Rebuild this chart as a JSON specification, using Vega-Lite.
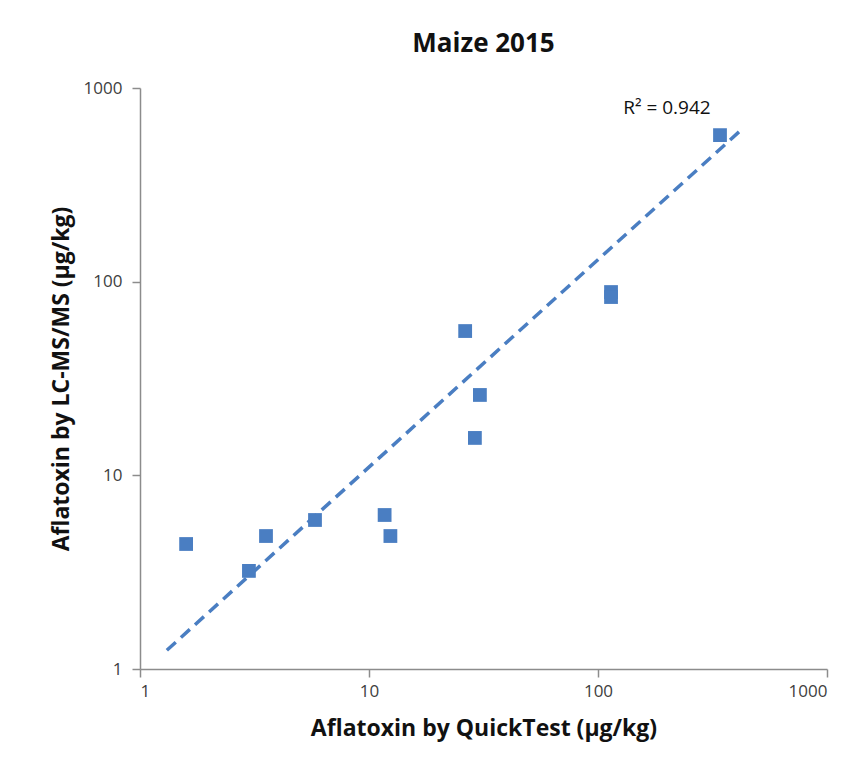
{
  "$schema": "https://vega.github.io/schema/vega-lite/v6.json",
  "width": 687,
  "height": 581,
  "autosize": "none",
  "padding": {"left": 140, "top": 88, "right": 40, "bottom": 98},
  "background": "white",
  "config": {"view": {"stroke": null}, "font": "Open Sans"},
  "title": {"text": "Maize 2015", "font": "Open Sans", "fontSize": 26, "fontWeight": "bold", "color": "#111", "offset": 22, "anchor": "middle"},
  "datasets": {
    "pts": [
      {"qt": 1.59, "lc": 4.42},
      {"qt": 2.99, "lc": 3.21},
      {"qt": 3.55, "lc": 4.86},
      {"qt": 5.81, "lc": 5.88},
      {"qt": 11.7, "lc": 6.24},
      {"qt": 12.4, "lc": 4.86},
      {"qt": 26.3, "lc": 55.6},
      {"qt": 30.5, "lc": 26.0},
      {"qt": 29.0, "lc": 15.6},
      {"qt": 114, "lc": 88.4},
      {"qt": 114, "lc": 83.3},
      {"qt": 341, "lc": 571}
    ],
    "trend": [
      {"qt": 1.31, "lc": 1.25},
      {"qt": 421, "lc": 606}
    ],
    "label": [
      {"qt": 200, "lc": 790, "text": "R² = 0.942"}
    ]
  },
  "encoding": {
    "x": {"field": "qt", "type": "quantitative",
      "scale": {"type": "log", "domain": [1, 1000], "nice": false},
      "axis": {"title": "Aflatoxin by QuickTest (µg/kg)", "values": [1, 10, 100, 1000], "format": "d", "grid": false,
        "domainColor": "#8c8c8c", "domainWidth": 1.5, "tickColor": "#8c8c8c", "tickWidth": 1.5, "tickSize": 8,
        "labelFont": "Open Sans", "labelFontSize": 17, "labelColor": "#404040", "labelPadding": 6,
        "titleFont": "Open Sans", "titleFontSize": 23, "titleFontWeight": "bold", "titleColor": "#111", "titlePadding": 18}},
    "y": {"field": "lc", "type": "quantitative",
      "scale": {"type": "log", "domain": [1, 1000], "nice": false},
      "axis": {"title": "Aflatoxin by LC-MS/MS (µg/kg)", "values": [1, 10, 100, 1000], "format": "d", "grid": false,
        "domainColor": "#8c8c8c", "domainWidth": 1.5, "tickColor": "#8c8c8c", "tickWidth": 1.5, "tickSize": 8,
        "labelFont": "Open Sans", "labelFontSize": 17, "labelColor": "#404040", "labelPadding": 10,
        "titleFont": "Open Sans", "titleFontSize": 23, "titleFontWeight": "bold", "titleColor": "#111", "titlePadding": 10}}
  },
  "layer": [
    {"data": {"name": "trend"}, "mark": {"type": "line", "color": "#4a7ec2", "strokeWidth": 3.5, "strokeDash": [12, 7]}},
    {"data": {"name": "pts"}, "mark": {"type": "square", "filled": true, "color": "#4a7ec2", "opacity": 1, "size": 190}},
    {"data": {"name": "label"}, "mark": {"type": "text", "font": "Open Sans", "fontSize": 19, "color": "#111", "align": "center", "baseline": "middle"},
      "encoding": {"text": {"field": "text"}}}
  ]
}
